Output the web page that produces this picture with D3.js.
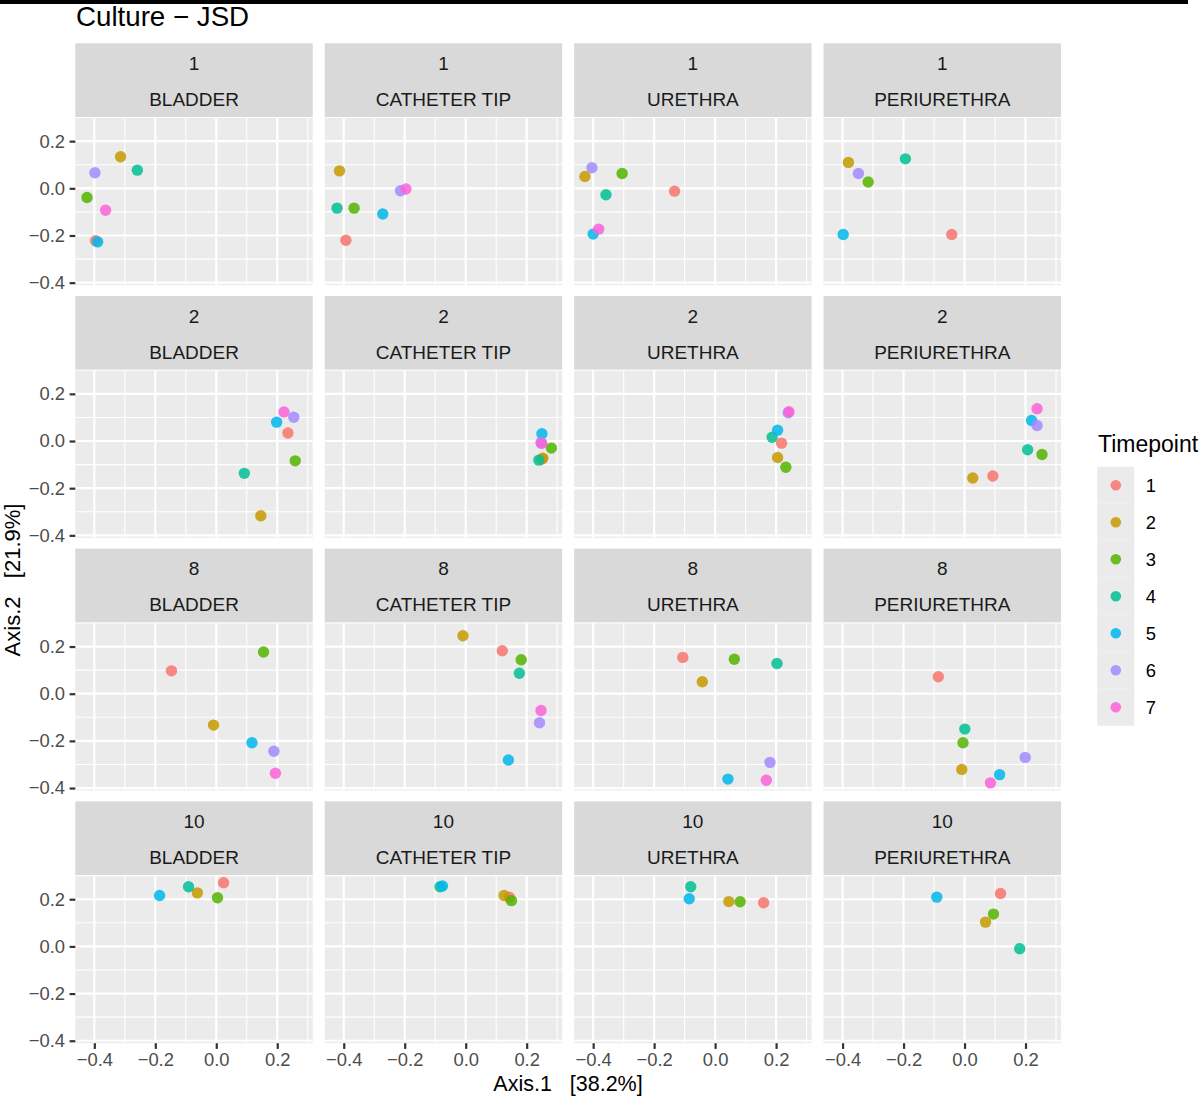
<!DOCTYPE html>
<html>
<head>
<meta charset="utf-8">
<script src="https://cdn.jsdelivr.net/npm/d3@7"></script>
<style>
  body { margin: 0; background: #fff; }
  svg text { font-family: "Liberation Sans", Arial, sans-serif; white-space: pre; }
</style>
</head>
<body>
<div id="chart"></div>
<script>
const subjects = ['1', '2', '8', '10']
const sites = ['BLADDER', 'CATHETER TIP', 'URETHRA', 'PERIURETHRA']
const timepoints = ['1', '2', '3', '4', '5', '6', '7']
const tpColors = ['#F8766D', '#C49A00', '#53B400', '#00C094', '#00B6EB', '#A58AFF', '#FB61D7']
const xTicks = [-0.4, -0.2, 0.0, 0.2]
const yTicks = [-0.4, -0.2, 0.0, 0.2]
const xMinor = [-0.3, -0.1, 0.1, 0.3]
const yMinor = [-0.3, -0.1, 0.1, 0.3]

// [site, timepoint, Axis.1, Axis.2]
const subject1 = [
    ['BLADDER', '1', -0.396, -0.222], ['BLADDER', '2', -0.314, 0.134], ['BLADDER', '3', -0.424, -0.039],
    ['BLADDER', '4', -0.259, 0.077], ['BLADDER', '5', -0.389, -0.227], ['BLADDER', '6', -0.398, 0.066],
    ['BLADDER', '7', -0.363, -0.093],
    ['CATHETER TIP', '1', -0.393, -0.220], ['CATHETER TIP', '2', -0.414, 0.074], ['CATHETER TIP', '3', -0.366, -0.084],
    ['CATHETER TIP', '4', -0.422, -0.084], ['CATHETER TIP', '5', -0.272, -0.109], ['CATHETER TIP', '6', -0.214, -0.010],
    ['CATHETER TIP', '7', -0.196, -0.003],
    ['URETHRA', '1', -0.133, -0.012], ['URETHRA', '2', -0.427, 0.050], ['URETHRA', '3', -0.305, 0.063],
    ['URETHRA', '4', -0.358, -0.027], ['URETHRA', '5', -0.400, -0.194], ['URETHRA', '6', -0.404, 0.087],
    ['URETHRA', '7', -0.382, -0.173],
    ['PERIURETHRA', '1', -0.042, -0.196], ['PERIURETHRA', '2', -0.381, 0.110], ['PERIURETHRA', '3', -0.316, 0.027],
    ['PERIURETHRA', '4', -0.194, 0.125], ['PERIURETHRA', '5', -0.398, -0.196], ['PERIURETHRA', '6', -0.348, 0.063]
]
const subject2 = [
    ['BLADDER', '1', 0.235, 0.034], ['BLADDER', '2', 0.146, -0.317], ['BLADDER', '3', 0.259, -0.084],
    ['BLADDER', '4', 0.092, -0.137], ['BLADDER', '5', 0.198, 0.080], ['BLADDER', '6', 0.254, 0.101],
    ['BLADDER', '7', 0.222, 0.123],
    ['CATHETER TIP', '1', 0.250, -0.076], ['CATHETER TIP', '2', 0.253, -0.073], ['CATHETER TIP', '3', 0.281, -0.030],
    ['CATHETER TIP', '4', 0.240, -0.081], ['CATHETER TIP', '5', 0.250, 0.031], ['CATHETER TIP', '6', 0.247, -0.006],
    ['CATHETER TIP', '7', 0.249, -0.010],
    ['URETHRA', '1', 0.218, -0.009], ['URETHRA', '2', 0.205, -0.070], ['URETHRA', '3', 0.232, -0.111],
    ['URETHRA', '4', 0.187, 0.016], ['URETHRA', '5', 0.205, 0.046], ['URETHRA', '6', 0.240, 0.120],
    ['URETHRA', '7', 0.242, 0.124],
    ['PERIURETHRA', '1', 0.093, -0.148], ['PERIURETHRA', '2', 0.027, -0.157], ['PERIURETHRA', '3', 0.254, -0.057],
    ['PERIURETHRA', '4', 0.207, -0.037], ['PERIURETHRA', '5', 0.220, 0.087], ['PERIURETHRA', '6', 0.238, 0.066],
    ['PERIURETHRA', '7', 0.238, 0.137]
]
const subject8 = [
    ['BLADDER', '1', -0.147, 0.097], ['BLADDER', '2', -0.009, -0.133], ['BLADDER', '3', 0.155, 0.177],
    ['BLADDER', '5', 0.117, -0.208], ['BLADDER', '6', 0.189, -0.244], ['BLADDER', '7', 0.194, -0.337],
    ['CATHETER TIP', '1', 0.120, 0.182], ['CATHETER TIP', '2', -0.009, 0.246], ['CATHETER TIP', '3', 0.182, 0.144],
    ['CATHETER TIP', '4', 0.176, 0.087], ['CATHETER TIP', '5', 0.140, -0.281], ['CATHETER TIP', '6', 0.242, -0.123],
    ['CATHETER TIP', '7', 0.247, -0.071],
    ['URETHRA', '1', -0.106, 0.154], ['URETHRA', '2', -0.042, 0.051], ['URETHRA', '3', 0.063, 0.146],
    ['URETHRA', '4', 0.203, 0.128], ['URETHRA', '5', 0.042, -0.362], ['URETHRA', '6', 0.180, -0.291],
    ['URETHRA', '7', 0.168, -0.367],
    ['PERIURETHRA', '1', -0.086, 0.072], ['PERIURETHRA', '2', -0.009, -0.321], ['PERIURETHRA', '3', -0.005, -0.208],
    ['PERIURETHRA', '4', 0.001, -0.150], ['PERIURETHRA', '5', 0.115, -0.343], ['PERIURETHRA', '6', 0.199, -0.270],
    ['PERIURETHRA', '7', 0.085, -0.378]
]
const subject10 = [
    ['BLADDER', '1', 0.024, 0.270], ['BLADDER', '2', -0.062, 0.227], ['BLADDER', '3', 0.004, 0.206],
    ['BLADDER', '4', -0.091, 0.253], ['BLADDER', '5', -0.186, 0.216],
    ['CATHETER TIP', '1', 0.143, 0.209], ['CATHETER TIP', '2', 0.126, 0.216], ['CATHETER TIP', '3', 0.150, 0.194],
    ['CATHETER TIP', '4', -0.084, 0.253], ['CATHETER TIP', '5', -0.076, 0.256],
    ['URETHRA', '1', 0.159, 0.185], ['URETHRA', '2', 0.045, 0.190], ['URETHRA', '3', 0.082, 0.189],
    ['URETHRA', '4', -0.080, 0.253], ['URETHRA', '5', -0.085, 0.202],
    ['PERIURETHRA', '1', 0.118, 0.224], ['PERIURETHRA', '2', 0.069, 0.103], ['PERIURETHRA', '3', 0.095, 0.137],
    ['PERIURETHRA', '4', 0.181, -0.010], ['PERIURETHRA', '5', -0.091, 0.209]
]

const width = 1200
const height = 1096
const stripH = 73.7
const tickFont = 18.4
const stripFont = 19

const points = []
const bySubject = { '1': subject1, '2': subject2, '8': subject8, '10': subject10 }
subjects.forEach(s => {
    bySubject[s].forEach(d => points.push({ subject: s, site: d[0], tp: d[1], x: d[2], y: d[3] }))
})

// ggplot style 5% expansion of the data range
const expand = (ext) => {
    const pad = (ext[1] - ext[0]) * 0.05
    return [ext[0] - pad, ext[1] + pad]
}
const xDomain = expand(d3.extent(points, d => d.x))
const yDomain = expand(d3.extent(points, d => d.y))

const colScale = d3.scaleBand().domain(sites).range([75.3, 1061]).paddingInner(0.048)
const rowScale = d3.scaleBand().domain(subjects).range([43.3, 1043.2]).paddingInner(0.043)
const panelW = colScale.bandwidth()
const panelH = rowScale.bandwidth() - stripH

const xScale = d3.scaleLinear().domain(xDomain).range([0, panelW])
const yScale = d3.scaleLinear().domain(yDomain).range([panelH, 0])
const color = d3.scaleOrdinal().domain(timepoints).range(tpColors)

const svg = d3.select('#chart').append('svg')
    .attr('width', width)
    .attr('height', height)

svg.append('rect')
    .attr('x', 0).attr('y', 0)
    .attr('width', 1188).attr('height', 4)
    .attr('fill', '#000')

svg.append('text')
    .text('Culture \u2212 JSD')
    .attr('x', 76)
    .attr('y', 26)
    .attr('font-size', 27.7)
    .attr('fill', '#000')

subjects.forEach(s => {
    sites.forEach(site => {
        const px = colScale(site)
        const py = rowScale(s)
        const g = svg.append('g').attr('transform', `translate(${px}, ${py})`)

        // strip
        g.append('rect')
            .attr('width', panelW).attr('height', stripH)
            .attr('fill', '#D9D9D9')
        g.append('text').text(s)
            .attr('x', panelW / 2).attr('y', 26.7)
            .attr('text-anchor', 'middle')
            .attr('font-size', stripFont).attr('fill', '#1A1A1A')
        g.append('text').text(site)
            .attr('x', panelW / 2).attr('y', 62.7)
            .attr('text-anchor', 'middle')
            .attr('font-size', stripFont).attr('fill', '#1A1A1A')

        const panel = g.append('g').attr('transform', `translate(0, ${stripH})`)
        panel.append('rect')
            .attr('width', panelW).attr('height', panelH)
            .attr('fill', '#EBEBEB')

        const clipId = `clip-${s}-${site.replace(' ', '')}`
        panel.append('clipPath').attr('id', clipId)
            .append('rect').attr('width', panelW).attr('height', panelH)
        const grid = panel.append('g').attr('clip-path', `url(#${clipId})`)

        grid.selectAll('.xminor').data(xMinor).enter().append('line')
            .attr('x1', d => xScale(d)).attr('x2', d => xScale(d))
            .attr('y1', 0).attr('y2', panelH)
            .attr('stroke', '#fff').attr('stroke-width', 1.1)
        grid.selectAll('.yminor').data(yMinor).enter().append('line')
            .attr('y1', d => yScale(d)).attr('y2', d => yScale(d))
            .attr('x1', 0).attr('x2', panelW)
            .attr('stroke', '#fff').attr('stroke-width', 1.1)
        grid.selectAll('.xmajor').data(xTicks).enter().append('line')
            .attr('x1', d => xScale(d)).attr('x2', d => xScale(d))
            .attr('y1', 0).attr('y2', panelH)
            .attr('stroke', '#fff').attr('stroke-width', 2.2)
        grid.selectAll('.ymajor').data(yTicks).enter().append('line')
            .attr('y1', d => yScale(d)).attr('y2', d => yScale(d))
            .attr('x1', 0).attr('x2', panelW)
            .attr('stroke', '#fff').attr('stroke-width', 2.2)

        panel.selectAll('circle')
            .data(points.filter(d => d.subject === s && d.site === site))
            .enter()
            .append('circle')
            .attr('cx', d => xScale(d.x))
            .attr('cy', d => yScale(d.y))
            .attr('r', 5.7)
            .attr('fill', d => color(d.tp))
            .attr('fill-opacity', 0.85)

        if (site === sites[0]) {
            const yAxis = d3.axisLeft(yScale)
                .tickValues(yTicks)
                .tickFormat(d3.format('.1f'))
                .tickSize(5.7)
                .tickPadding(4.6)
            const ya = panel.append('g').call(yAxis)
            styleAxis(ya)
        }
        if (s === subjects[subjects.length - 1]) {
            const xAxis = d3.axisBottom(xScale)
                .tickValues(xTicks)
                .tickFormat(d3.format('.1f'))
                .tickSize(5.7)
                .tickPadding(3.6)
            const xa = panel.append('g')
                .attr('transform', `translate(0, ${panelH})`)
                .call(xAxis)
            styleAxis(xa)
        }
    })
})

function styleAxis(a) {
    a.select('.domain').remove()
    a.selectAll('.tick line').attr('stroke', '#333333').attr('stroke-width', 2.2)
    a.selectAll('.tick text')
        .attr('font-size', tickFont)
        .attr('font-family', '"Liberation Sans", Arial, sans-serif')
        .attr('fill', '#4D4D4D')
}

// axis titles
svg.append('text')
    .text('Axis.1   [38.2%]')
    .attr('x', 568)
    .attr('y', 1091.2)
    .attr('text-anchor', 'middle')
    .attr('font-size', 21.5)
    .attr('fill', '#000')

svg.append('text')
    .text('Axis.2   [21.9%]')
    .attr('transform', 'translate(20, 580) rotate(-90)')
    .attr('text-anchor', 'middle')
    .attr('font-size', 22)
    .attr('fill', '#000')

// legend
const legend = svg.append('g').attr('transform', 'translate(1097.3, 466.7)')
legend.append('text')
    .text('Timepoint')
    .attr('x', 0.7).attr('y', -15)
    .attr('font-size', 23).attr('fill', '#000')

const keySize = 37
const keys = legend.selectAll('.key')
    .data(timepoints)
    .enter()
    .append('g')
    .attr('transform', (d, i) => `translate(0, ${i * keySize})`)

keys.append('rect')
    .attr('width', keySize).attr('height', keySize)
    .attr('fill', '#EBEBEB')
keys.append('circle')
    .attr('cx', keySize / 2).attr('cy', keySize / 2)
    .attr('r', 5.3)
    .attr('fill', d => color(d))
    .attr('fill-opacity', 0.85)
keys.append('text')
    .text(d => d)
    .attr('x', 48.4)
    .attr('y', keySize / 2 + 6.6)
    .attr('font-size', tickFont)
    .attr('fill', '#000')
</script>
</body>
</html>
